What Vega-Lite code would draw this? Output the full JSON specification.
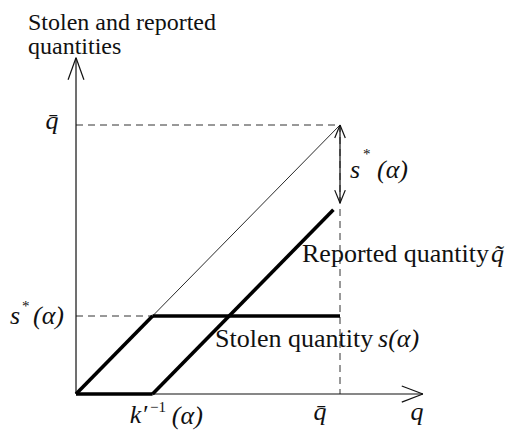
{
  "$schema": "https://vega.github.io/schema/vega-lite/v6.json",
  "width": 511,
  "height": 431,
  "padding": 0,
  "autosize": {"type": "none"},
  "background": "white",
  "config": {"view": {"stroke": null}},
  "datasets": {
    "segments": [
      {"kind": "axis", "x": 0, "y": 0, "x2": 0, "y2": 12.5},
      {"kind": "axis", "x": 0, "y": 0, "x2": 13.14, "y2": 0},
      {"kind": "axis", "x": 0, "y": 12.5, "x2": -0.3, "y2": 11.68},
      {"kind": "axis", "x": 0, "y": 12.5, "x2": 0.3, "y2": 11.68},
      {"kind": "axis", "x": 13.14, "y": 0, "x2": 12.34, "y2": 0.3},
      {"kind": "axis", "x": 13.14, "y": 0, "x2": 12.34, "y2": -0.3},
      {"kind": "axis", "x": 10, "y": 10, "x2": 10, "y2": 7.1},
      {"kind": "axis", "x": 10, "y": 10, "x2": 9.8, "y2": 9.52},
      {"kind": "axis", "x": 10, "y": 10, "x2": 10.2, "y2": 9.52},
      {"kind": "axis", "x": 10, "y": 7.1, "x2": 9.8, "y2": 7.58},
      {"kind": "axis", "x": 10, "y": 7.1, "x2": 10.2, "y2": 7.58},
      {"kind": "thin", "x": 0, "y": 0, "x2": 10, "y2": 10},
      {"kind": "thick", "x": 0, "y": 0, "x2": 2.9, "y2": 2.9},
      {"kind": "thick", "x": 2.9, "y": 2.9, "x2": 10, "y2": 2.9},
      {"kind": "thick", "x": 0, "y": 0, "x2": 2.9, "y2": 0},
      {"kind": "thick", "x": 2.9, "y": 0, "x2": 9.75, "y2": 6.85},
      {"kind": "dashed", "x": 0, "y": 10, "x2": 10, "y2": 10},
      {"kind": "dashed", "x": 10, "y": 10, "x2": 10, "y2": 0},
      {"kind": "dashed", "x": 0, "y": 2.9, "x2": 2.9, "y2": 2.9}
    ],
    "labels": [
      {"kind": "title", "x": -1.818, "y": 13.53, "text": "Stolen and reported"},
      {"kind": "title", "x": -1.818, "y": 12.64, "text": "quantities"},
      {"kind": "plain", "x": 8.561, "y": 4.907, "text": "Reported  quantity"},
      {"kind": "plain", "x": 5.265, "y": 1.747, "text": "Stolen  quantity"},
      {"kind": "math", "x": 15.72, "y": 4.907, "text": "q̃"},
      {"kind": "math", "x": 11.44, "y": 1.747, "text": "s(α)"},
      {"kind": "math", "x": -2.5, "y": 2.602, "text": "s"},
      {"kind": "sup", "x": -2.045, "y": 3.086, "text": "*"},
      {"kind": "math", "x": -1.629, "y": 2.602, "text": "(α)"},
      {"kind": "math", "x": 10.379, "y": 8.03, "text": "s"},
      {"kind": "sup", "x": 10.871, "y": 8.736, "text": "*"},
      {"kind": "math", "x": 11.402, "y": 8.03, "text": "(α)"},
      {"kind": "math", "x": 2.04, "y": -1.078, "text": "k′"},
      {"kind": "sup", "x": 2.803, "y": -0.669, "text": "−1"},
      {"kind": "math", "x": 3.63, "y": -1.115, "text": "(α)"},
      {"kind": "math", "x": 8.996, "y": -0.967, "text": "q̄"},
      {"kind": "math", "x": 12.67, "y": -0.967, "text": "q"},
      {"kind": "math", "x": -1.155, "y": 9.851, "text": "q̄"}
    ]
  },
  "encoding": {
    "x": {"field": "x", "type": "quantitative", "scale": {"domain": [-2.879, 16.477], "nice": false, "zero": false}, "axis": null},
    "y": {"field": "y", "type": "quantitative", "scale": {"domain": [-1.375, 14.647], "nice": false, "zero": false}, "axis": null}
  },
  "layer": [
    {
      "data": {"name": "segments"},
      "transform": [{"filter": "datum.kind === 'dashed'"}],
      "mark": {"type": "rule", "color": "#333333", "strokeWidth": 1, "strokeDash": [7, 5]},
      "encoding": {"x2": {"field": "x2"}, "y2": {"field": "y2"}}
    },
    {
      "data": {"name": "segments"},
      "transform": [{"filter": "datum.kind === 'axis'"}],
      "mark": {"type": "rule", "color": "#111111", "strokeWidth": 1.2},
      "encoding": {"x2": {"field": "x2"}, "y2": {"field": "y2"}}
    },
    {
      "data": {"name": "segments"},
      "transform": [{"filter": "datum.kind === 'thin'"}],
      "mark": {"type": "rule", "color": "#111111", "strokeWidth": 0.9},
      "encoding": {"x2": {"field": "x2"}, "y2": {"field": "y2"}}
    },
    {
      "data": {"name": "segments"},
      "transform": [{"filter": "datum.kind === 'thick'"}],
      "mark": {"type": "rule", "color": "#000000", "strokeWidth": 3.6, "strokeCap": "butt"},
      "encoding": {"x2": {"field": "x2"}, "y2": {"field": "y2"}}
    },
    {
      "data": {"name": "labels"},
      "transform": [{"filter": "datum.kind === 'title'"}],
      "mark": {"type": "text", "font": "Liberation Serif", "fontSize": 24, "align": "left", "baseline": "alphabetic", "color": "#111111"},
      "encoding": {"text": {"field": "text"}}
    },
    {
      "data": {"name": "labels"},
      "transform": [{"filter": "datum.kind === 'plain'"}],
      "mark": {"type": "text", "font": "Liberation Serif", "fontSize": 26, "align": "left", "baseline": "alphabetic", "color": "#111111"},
      "encoding": {"text": {"field": "text"}}
    },
    {
      "data": {"name": "labels"},
      "transform": [{"filter": "datum.kind === 'math'"}],
      "mark": {"type": "text", "font": "Liberation Serif", "fontStyle": "italic", "fontSize": 26, "align": "left", "baseline": "alphabetic", "color": "#111111"},
      "encoding": {"text": {"field": "text"}}
    },
    {
      "data": {"name": "labels"},
      "transform": [{"filter": "datum.kind === 'sup'"}],
      "mark": {"type": "text", "font": "Liberation Serif", "fontSize": 15, "align": "left", "baseline": "alphabetic", "color": "#111111"},
      "encoding": {"text": {"field": "text"}}
    }
  ]
}
